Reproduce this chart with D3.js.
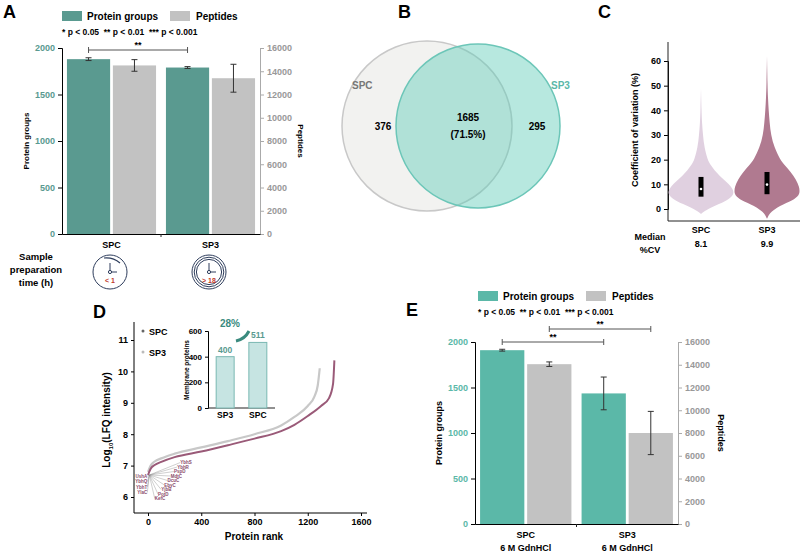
<!DOCTYPE html>
<html><head><meta charset="utf-8">
<script src="https://cdn.jsdelivr.net/npm/d3@7"></script>
<style>
body{margin:0;background:#fff;font-family:"Liberation Sans",Arial,sans-serif;}
text{font-weight:bold;}
</style></head>
<body><div id="fig"></div>
<script>
// ---- data ----
var groupsA = ["SPC", "SP3"];
var proteinA = [1880, 1790], proteinErrA = [15, 10];
var peptideA = [14500, 13400], peptideErrA = [500, 1200];

var groupsE = ["SPC\n6 M GdnHCl", "SP3\n6 M GdnHCl"];
var proteinE = [1910, 1435], proteinErrE = [10, 180];
var peptideE = [14050, 8000], peptideErrE = [200, 1900];

var vennLabels = ["SPC", "SP3"];
var vennCounts = [376, 1685, 295];
var vennShare = "(71.5%)";

var cvGroups = ["SPC", "SP3"];
var cvMedian = [8.1, 9.9];
var cvBox = [[5, 13], [6, 15]];
// violin profile: [cv value, relative half width]
var cvProfileSPC = [[-2,0],[0,0.2],[2,0.55],[4,0.85],[6,1],[8,0.97],[10,0.85],[12,0.68],[15,0.45],[18,0.28],[20,0.2],[25,0.1],[30,0.06],[35,0.03],[40,0.015],[49,0]];
var cvProfileSP3 = [[-4,0],[-1,0.1],[2,0.5],[4,0.85],[6,1],[9,0.98],[12,0.88],[15,0.72],[18,0.52],[20,0.4],[25,0.22],[30,0.12],[35,0.08],[40,0.05],[45,0.03],[50,0.015],[62,0]];

var rankSPC = [[0,6.7],[20,6.9],[50,7.02],[100,7.12],[200,7.27],[400,7.45],[600,7.65],[800,7.86],[1000,8.1],[1100,8.3],[1200,8.58],[1300,8.9],[1360,9.15],[1390,9.6],[1400,10.35]];
var rankSP3 = [[0,6.8],[20,7.0],[50,7.13],[100,7.23],[200,7.38],[400,7.58],[600,7.78],[800,8.0],[1000,8.28],[1100,8.55],[1200,8.9],[1250,9.2],[1275,9.55],[1290,10.1]];
var fanLabels = ["YbhS","YbhR","PspD","MdtC","DcuC","EbyC","YjbB","PotD","KefC","YlaC","YbhT","YbhQ","UshA"];
var memGroups = ["SP3", "SPC"], memCounts = [400, 511];

var teal = "#5a9a90", tealE = "#5bb8a8", grey = "#c2c2c2", dark = "#222";

var svg = d3.select("#fig").append("svg").attr("width", 801).attr("height", 552);

function label(x, y, t, size) {
  svg.append("text").attr("x", x).attr("y", y).attr("font-size", size || 18).text(t);
}

// ---- bar panel (A, E) ----
function barPanel(o) {
  var y = d3.scaleLinear().domain([0, 2000]).range([o.bottom, o.top]);
  var y2 = d3.scaleLinear().domain([0, 16000]).range([o.bottom, o.top]);
  var x = d3.scaleBand().domain(o.groups).range([o.left, o.right]).paddingInner(0.1).paddingOuter(0.05);
  var sub = d3.scaleBand().domain([0, 1]).range([0, x.bandwidth()]).paddingInner(0.06);
  var g = svg.append("g");

  var la = g.append("g").attr("transform", `translate(${o.left},0)`)
    .call(d3.axisLeft(y).ticks(4).tickSize(4).tickFormat(d3.format("d")));
  la.selectAll("text").attr("fill", o.color).attr("font-size", 9);
  var ra = g.append("g").attr("transform", `translate(${o.right},0)`)
    .call(d3.axisRight(y2).ticks(8).tickSize(4).tickFormat(d3.format("d")));
  ra.selectAll("text").attr("fill", "#999").attr("font-size", 9);
  ra.selectAll("path,line").attr("stroke", "#aaa");
  g.append("g").attr("transform", `translate(0,${o.bottom})`)
    .call(d3.axisBottom(x).tickSize(0).tickFormat(""));
  var mid = (x(o.groups[0]) + x(o.groups[1]) + x.bandwidth()) / 2;
  g.append("line").attr("x1", mid).attr("x2", mid)
    .attr("y1", o.bottom).attr("y2", o.bottom + 3).attr("stroke", dark);

  o.groups.forEach(function(gr, i) {
    var bars = [[o.prot[i], o.protErr[i], y, o.color], [o.pep[i], o.pepErr[i], y2, grey]];
    bars.forEach(function(b, j) {
      var bx = x(gr) + sub(j), w = sub.bandwidth(), s = b[2];
      g.append("rect").attr("x", bx).attr("y", s(b[0])).attr("width", w)
        .attr("height", o.bottom - s(b[0])).attr("fill", b[3]);
      var cx = bx + w / 2;
      g.append("path").attr("stroke", "#333").attr("fill", "none").attr("stroke-width", 1)
        .attr("d", `M${cx - 3},${s(b[0] + b[1])}H${cx + 3}M${cx},${s(b[0] + b[1])}V${s(b[0] - b[1])}M${cx - 3},${s(b[0] - b[1])}H${cx + 3}`);
    });
    gr.split("\n").forEach(function(t, k) {
      g.append("text").attr("x", x(gr) + x.bandwidth() / 2).attr("y", o.bottom + 14 + k * 13)
        .attr("text-anchor", "middle").attr("font-size", 9).text(t);
    });
  });

  // significance brackets
  o.sig.forEach(function(s) {
    var x1 = x(o.groups[0]) + sub(s[0]) + sub.bandwidth() / 2;
    var x2 = x(o.groups[1]) + sub(s[0]) + sub.bandwidth() / 2;
    g.append("path").attr("stroke", "#555").attr("fill", "none")
      .attr("d", `M${x1},${s[1] - 3}V${s[1] + 3}M${x1},${s[1]}H${x2}M${x2},${s[1] - 3}V${s[1] + 3}`);
    g.append("text").attr("x", (x1 + x2) / 2).attr("y", s[1] - 2).attr("text-anchor", "middle")
      .attr("font-size", 9).text("**");
  });

  // legend
  var lg = o.legend;
  g.append("rect").attr("x", lg[0]).attr("y", lg[1] - 5).attr("width", 20).attr("height", 10).attr("fill", o.color);
  g.append("text").attr("x", lg[0] + 25).attr("y", lg[1] + 4).attr("font-size", 10).text("Protein groups");
  g.append("rect").attr("x", lg[0] + 108).attr("y", lg[1] - 5).attr("width", 20).attr("height", 10).attr("fill", grey);
  g.append("text").attr("x", lg[0] + 134).attr("y", lg[1] + 4).attr("font-size", 10).text("Peptides");
  g.append("text").attr("x", lg[0]).attr("y", lg[1] + 19).attr("font-size", 8.5)
    .attr("xml:space", "preserve").text("* p < 0.05  ** p < 0.01  *** p < 0.001");

  g.append("text").attr("transform", `translate(${o.left - 33},${(o.top + o.bottom) / 2}) rotate(-90)`)
    .attr("text-anchor", "middle").attr("font-size", o.ySize).text("Protein groups");
  g.append("text").attr("transform", `translate(${o.right + o.rOff},${(o.top + o.bottom) / 2}) rotate(90)`)
    .attr("text-anchor", "middle").attr("font-size", o.ySize).text("Peptides");
  return x;
}

barPanel({groups: groupsA, prot: proteinA, protErr: proteinErrA, pep: peptideA, pepErr: peptideErrA,
  left: 62, right: 260, top: 48, bottom: 234, color: teal, sig: [[0, 50]], legend: [62, 16], ySize: 8, rOff: 38});
label(3, 18, "A");

// clocks under A
[[110, "< 1", 1], [209, "> 18", 3]].forEach(function(c) {
  var cx = c[0], cy = 272;
  for (var k = 0; k < c[2]; k++) {
    svg.append("circle").attr("cx", cx).attr("cy", cy).attr("r", 17 - k * 2.2)
      .attr("fill", "none").attr("stroke", "#2e3d5c").attr("stroke-width", 1);
  }
  svg.append("path").attr("d", `M${cx},${cy - 9}V${cy}H${cx + 7}`).attr("stroke", "#2e3d5c").attr("fill", "none");
  svg.append("circle").attr("cx", cx).attr("cy", cy).attr("r", 1.6).attr("fill", "#fff").attr("stroke", "#2e3d5c");
  svg.append("text").attr("x", cx).attr("y", cy + 11).attr("text-anchor", "middle")
    .attr("font-size", 7).attr("fill", "#c0392b").text(c[1]);
});
svg.append("path").attr("d", "M104,258 Q113,257 120,263").attr("stroke", "#2e3d5c").attr("fill", "none").attr("stroke-width", 1.2);
["Sample", "preparation", "time (h)"].forEach(function(t, i) {
  svg.append("text").attr("x", 36).attr("y", 260 + i * 13).attr("text-anchor", "middle").attr("font-size", 9.5).text(t);
});

// ---- B venn ----
label(398, 18, "B");
svg.append("circle").attr("cx", 427).attr("cy", 126).attr("r", 85).attr("fill", "#f2f2f0").attr("stroke", "#c8c8c8").attr("stroke-width", 1.5);
svg.append("circle").attr("cx", 478).attr("cy", 126).attr("r", 82).attr("fill", "rgba(95,205,185,0.45)").attr("stroke", "#6cc6b8").attr("stroke-width", 1.5);
svg.append("text").attr("x", 352).attr("y", 89).attr("font-size", 10).attr("fill", "#777").text(vennLabels[0]);
svg.append("text").attr("x", 551).attr("y", 89).attr("font-size", 10).attr("fill", "#5bb8a8").text(vennLabels[1]);
svg.append("text").attr("x", 383).attr("y", 130).attr("text-anchor", "middle").attr("font-size", 10).text(vennCounts[0]);
svg.append("text").attr("x", 468).attr("y", 121).attr("text-anchor", "middle").attr("font-size", 10).text(vennCounts[1]);
svg.append("text").attr("x", 468).attr("y", 138).attr("text-anchor", "middle").attr("font-size", 10).text(vennShare);
svg.append("text").attr("x", 537).attr("y", 130).attr("text-anchor", "middle").attr("font-size", 10).text(vennCounts[2]);

// ---- C violin ----
label(598, 18, "C");
var yC = d3.scaleLinear().domain([0, 60]).range([209, 61]);
var xC = d3.scalePoint().domain(cvGroups).range([701, 767]);
svg.append("g").attr("transform", "translate(668,0)").call(d3.axisLeft(yC).ticks(6).tickSize(4))
  .selectAll("text").attr("font-size", 9);
svg.append("path").attr("d", "M668,42V221H800").attr("stroke", dark).attr("fill", "none");
var violinArea = d3.area().curve(d3.curveBasis).y(d => yC(d[0]));
[[cvProfileSPC, "#e0d0e0"], [cvProfileSP3, "#b07a90"]].forEach(function(v, i) {
  var cx = xC(cvGroups[i]), hw = 33;
  svg.append("path").datum(v[0]).attr("fill", v[1])
    .attr("d", violinArea.x0(d => cx - d[1] * hw).x1(d => cx + d[1] * hw));
  svg.append("rect").attr("x", cx - 2.5).attr("y", yC(cvBox[i][1])).attr("width", 5)
    .attr("height", yC(cvBox[i][0]) - yC(cvBox[i][1])).attr("fill", "#000");
  svg.append("circle").attr("cx", cx).attr("cy", yC(cvMedian[i])).attr("r", 1.3).attr("fill", "#fff");
  svg.append("text").attr("x", cx).attr("y", 233).attr("text-anchor", "middle").attr("font-size", 9).text(cvGroups[i]);
  svg.append("text").attr("x", cx).attr("y", 247).attr("text-anchor", "middle").attr("font-size", 9).text(cvMedian[i]);
});
svg.append("text").attr("x", 650).attr("y", 240).attr("text-anchor", "middle").attr("font-size", 9).text("Median");
svg.append("text").attr("x", 650).attr("y", 253).attr("text-anchor", "middle").attr("font-size", 9).text("%CV");
svg.append("text").attr("transform", "translate(638,130) rotate(-90)").attr("text-anchor", "middle")
  .attr("font-size", 9).text("Coefficient of variation (%)");

// ---- D rank plot ----
label(93, 318, "D");
var xD = d3.scaleLinear().domain([0, 1600]).range([148, 361]);
var yD = d3.scaleLinear().domain([6, 11]).range([497, 340]);
var axD = svg.append("g").attr("transform", "translate(0,513)")
  .call(d3.axisBottom(xD).tickValues([0, 400, 800, 1200, 1600]).tickSize(3).tickFormat(d3.format("d")));
axD.selectAll("text").attr("font-size", 9);
axD.select(".domain").attr("d", "M134,0H367");
var ayD = svg.append("g").attr("transform", "translate(134,0)").call(d3.axisLeft(yD).ticks(5).tickSize(3));
ayD.selectAll("text").attr("font-size", 9);
ayD.select(".domain").attr("d", "M0,322V513");
var lineD = d3.line().curve(d3.curveMonotoneX).x(d => xD(d[0])).y(d => yD(d[1]));
svg.append("path").datum(rankSP3).attr("d", lineD).attr("stroke", "#c8c8c8").attr("stroke-width", 2.2).attr("fill", "none");
svg.append("path").datum(rankSPC).attr("d", lineD).attr("stroke", "#9a5a78").attr("stroke-width", 2).attr("fill", "none");
svg.append("text").attr("x", 149).attr("y", 335).attr("font-size", 9).text("SPC");
svg.append("circle").attr("cx", 143).attr("cy", 331).attr("r", 1.5).attr("fill", "#666");
svg.append("text").attr("x", 149).attr("y", 356).attr("font-size", 9).text("SP3");
svg.append("circle").attr("cx", 143).attr("cy", 352).attr("r", 1.5).attr("fill", "#bbb");
svg.append("text").attr("transform", "translate(110,420) rotate(-90)").attr("text-anchor", "middle")
  .attr("font-size", 10).html('Log<tspan font-size="6" dy="3">10</tspan><tspan dy="-3">(LFQ intensity)</tspan>');
svg.append("text").attr("x", 254).attr("y", 540).attr("text-anchor", "middle").attr("font-size", 10).text("Protein rank");
// labelled membrane proteins fan
var ox = xD(10), oy = yD(6.7);
fanLabels.forEach(function(t, i) {
  var tx, ty;
  if (i <= 8) { tx = ox + 31 - i * 3.2; ty = oy - 11 + i * 4.5; }
  else { tx = ox - 2; ty = oy + 19 - (i - 9) * 5.5; }
  svg.append("line").attr("x1", ox).attr("y1", oy).attr("x2", tx).attr("y2", ty - 1.5).attr("stroke", "#888").attr("stroke-width", 0.4);
  svg.append("text").attr("x", tx).attr("y", ty).attr("font-size", 4.5).attr("fill", "#8a4a6a")
    .attr("font-weight", "normal").attr("text-anchor", i > 8 ? "end" : "start").text(t);
});
// inset
var yI = d3.scaleLinear().domain([0, 600]).range([408, 331]);
var xI = d3.scaleBand().domain(memGroups).range([208, 275]).paddingInner(0.45).paddingOuter(0.25);
var aI = svg.append("g").attr("transform", "translate(208,0)").call(d3.axisLeft(yI).ticks(3).tickSize(3));
aI.selectAll("text").attr("font-size", 8);
svg.append("path").attr("d", "M208,408H275").attr("stroke", dark);
memGroups.forEach(function(m, i) {
  svg.append("rect").attr("x", xI(m)).attr("y", yI(memCounts[i])).attr("width", xI.bandwidth())
    .attr("height", 408 - yI(memCounts[i])).attr("fill", "#c6e4e2").attr("stroke", "#7ab8b2");
  svg.append("text").attr("x", xI(m) + xI.bandwidth() / 2).attr("y", yI(memCounts[i]) - 4)
    .attr("text-anchor", "middle").attr("font-size", 8.5).attr("fill", teal).text(memCounts[i]);
  svg.append("text").attr("x", xI(m) + xI.bandwidth() / 2).attr("y", 418)
    .attr("text-anchor", "middle").attr("font-size", 8.5).text(m);
});
svg.append("text").attr("transform", "translate(189,370) rotate(-90)").attr("text-anchor", "middle")
  .attr("font-size", 6.5).text("Membrane proteins");
svg.append("text").attr("x", 220).attr("y", 327).attr("font-size", 10).attr("fill", "#3a8a7e").text("28%");
svg.append("path").attr("d", "M236,341 Q245,339 249,331").attr("stroke", "#3a8a7e").attr("stroke-width", 3).attr("fill", "none");

// ---- E ----
label(406, 316, "E");
barPanel({groups: groupsE, prot: proteinE, protErr: proteinErrE, pep: peptideE, pepErr: peptideErrE,
  left: 475, right: 678, top: 342, bottom: 524, color: tealE, sig: [[0, 342], [1, 329]], legend: [478, 296], ySize: 9, rOff: 40});
</script></body></html>
